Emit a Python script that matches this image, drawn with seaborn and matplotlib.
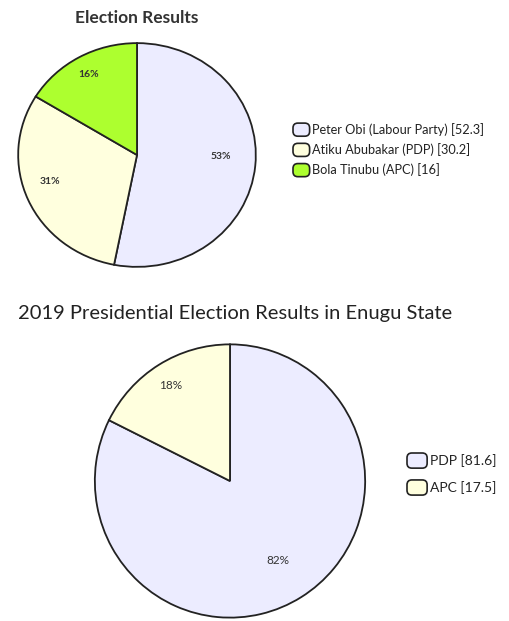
import matplotlib
matplotlib.use("Agg")
import matplotlib.pyplot as plt
import matplotlib.transforms as mtransforms
import seaborn as sns
from matplotlib.patches import Patch, FancyBboxPatch
from matplotlib.legend_handler import HandlerPatch

sns.set_theme(style="white")
plt.rcParams['font.family'] = ['Lato', 'DejaVu Sans']

# Chart 1
title1 = "Election Results"
labels1 = ["Peter Obi (Labour Party)", "Atiku Abubakar (PDP)", "Bola Tinubu (APC)"]
values1 = [52.3, 30.2, 16]
colors1 = ["#ECECFF", "#FFFFDE", "#ADFF2F"]

# Chart 2
title2 = "2019 Presidential Election Results in Enugu State"
labels2 = ["PDP", "APC"]
values2 = [81.6, 17.5]
colors2 = ["#ECECFF", "#FFFFDE"]

W, H = 510, 621
fig = plt.figure(figsize=(W / 100, H / 100), dpi=100)
fig.patch.set_facecolor("white")


def px_axes(cx, cy, rx, ry):
    return fig.add_axes([(cx - rx) / W, (H - cy - ry) / H, 2 * rx / W, 2 * ry / H])


def draw(ax, values, colors, fs, bold, dx, dy):
    wedges, texts, autotexts = ax.pie(
        values, colors=colors, startangle=90, counterclock=False,
        autopct=lambda p: f"{p:.0f}%", pctdistance=0.75, radius=1,
        wedgeprops=dict(edgecolor="#222222", linewidth=1.3),
        textprops=dict(fontsize=fs, color="#333333",
                       fontweight="bold" if bold else "normal"))
    ax.set_xlim(-1.01, 1.01)
    ax.set_ylim(-1.01, 1.01)
    ax.set_aspect("auto")
    ax.axis("off")
    tr = mtransforms.offset_copy(ax.transData, fig=fig, x=dx, y=dy, units="dots")
    for t in autotexts:
        t.set_transform(tr)
    return wedges


ax1 = px_axes(137, 155, 120, 113)
w1 = draw(ax1, values1, colors1, 7.5, True, -5, 7)
ax2 = px_axes(230, 481, 136.5, 138)
w2 = draw(ax2, values2, colors2, 8.5, False, -6, 8)

fig.text(137 / W, 1 - 18 / H, title1, ha="center", va="center",
         fontsize=12.5, fontweight="bold", color="#333333")
fig.text(18 / W, 1 - 314 / H, title2, ha="left", va="center",
         fontsize=14.5, color="#222222")


class RoundHandler(HandlerPatch):
    def create_artists(self, legend, orig_handle, xdescent, ydescent,
                       width, height, fontsize, trans):
        p = FancyBboxPatch((-xdescent, -ydescent), width, height,
                           boxstyle="round,pad=0,rounding_size=3.5",
                           facecolor=orig_handle.get_facecolor(),
                           edgecolor="#222222", linewidth=1.2,
                           transform=trans)
        return [p]


def legend(labels, values, colors, x, y, fs, hl, hh, spacing):
    handles = [Patch(facecolor=c, edgecolor="#222222") for c in colors]
    names = [f"{l} [{v:g}]" for l, v in zip(labels, values)]
    fig.legend(handles, names, loc="upper left",
               bbox_to_anchor=(x / W, 1 - y / H), frameon=False,
               fontsize=fs, handlelength=hl, handleheight=hh,
               handletextpad=0.2, labelspacing=spacing, borderpad=0,
               borderaxespad=0, labelcolor="#222222",
               handler_map={Patch: RoundHandler()})


legend(labels1, values1, colors1, 293, 123, 9.2, 1.3, 1.2, 0.55)
legend(labels2, values2, colors2, 407, 453, 10, 1.45, 1.3, 0.85)

fig.savefig("out.png", dpi=100)
